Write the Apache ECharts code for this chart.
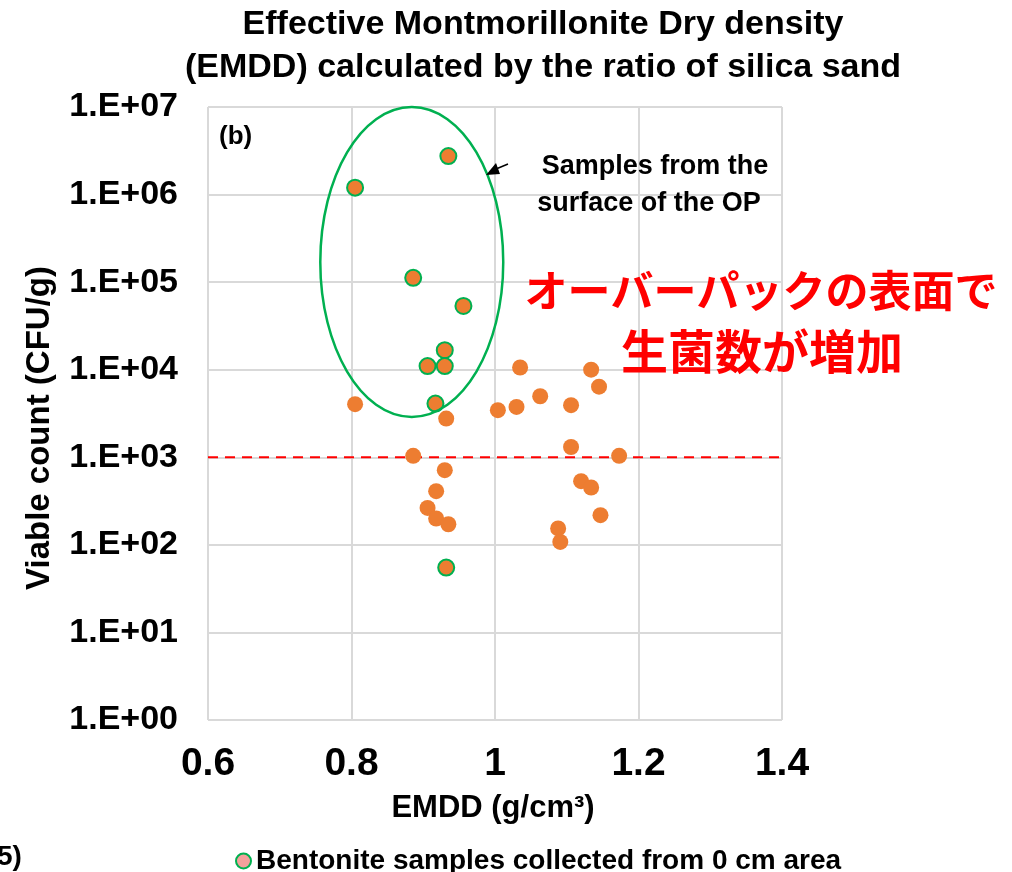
<!DOCTYPE html>
<html>
<head>
<meta charset="utf-8">
<script src="https://cdn.jsdelivr.net/npm/echarts@6/dist/echarts.min.js"></script>
<style>html,body{margin:0;padding:0;background:#fff;}#c{width:1012px;height:872px;}</style>
</head>
<body>
<div id="c"></div>
<script>
// Data
var surfaceX = [0.935, 0.805, 0.886, 0.956, 0.930, 0.906, 0.930, 0.917, 0.932];
var surfaceY = [2750000, 1200000, 112000, 53500, 16700, 11000, 11000, 4100, 55];
var otherX = [0.805, 0.932, 1.004, 1.030, 1.035, 1.134, 1.145, 1.063, 1.106, 1.106, 0.886, 1.173, 0.930, 0.918, 1.120, 1.134, 0.906, 0.918, 0.935, 1.147, 1.088, 1.091];
var otherY = [4040, 2770, 3450, 3760, 10600, 10000, 6400, 4980, 3940, 1310, 1040, 1040, 713, 410, 533, 452, 264, 200, 172, 218, 154, 108];
var xTickLabels = ['0.6', '0.8', '1', '1.2', '1.4'];
var yTickLabels = ['1.E+00', '1.E+01', '1.E+02', '1.E+03', '1.E+04', '1.E+05', '1.E+06', '1.E+07'];
var thresholdX = [0.6, 1.4];
var thresholdY = [1000, 1000];
var ellipseCenter = [0.884, 170000];   // data coords of the annotation ellipse centre
var ellipseTop = [0.884, 10000000];
var ellipseRight = [1.0115, 170000];

function pairs(xs, ys) { return xs.map(function (x, i) { return [x, ys[i]]; }); }

var chart = echarts.init(document.getElementById('c'), null, { renderer: 'canvas' });
var legendName = 'Bentonite samples collected from 0 cm area';
var option = {
  animation: false,
  backgroundColor: '#ffffff',
  title: {
    text: 'Effective Montmorillonite Dry density\n(EMDD) calculated by the ratio of silica sand',
    left: 538, top: -2, textAlign: 'center',
    textStyle: { fontFamily: 'Liberation Sans', fontWeight: 'bold', fontSize: 34, lineHeight: 43, color: '#000' }
  },
  grid: { left: 208, right: 230, top: 107, bottom: 152 },
  legend: {
    data: [{ name: legendName, icon: 'circle', itemStyle: { color: '#F4A09C', borderColor: '#00B050', borderWidth: 2 } }],
    left: 230, top: 842, itemWidth: 15, itemHeight: 15, itemGap: 7,
    textStyle: { fontFamily: 'Liberation Sans', fontWeight: 'bold', fontSize: 28, color: '#000' }
  },
  xAxis: {
    type: 'value', min: 0.6, max: 1.4, interval: 0.2,
    axisLine: { show: false }, axisTick: { show: false },
    splitLine: { show: true, lineStyle: { color: '#d9d9d9', width: 2 } },
    axisLabel: {
      margin: 25, color: '#000', fontFamily: 'Liberation Sans', fontWeight: 'bold', fontSize: 39,
      formatter: function (v) { return xTickLabels[Math.round((v - 0.6) / 0.2)]; }
    }
  },
  yAxis: {
    type: 'log', logBase: 10, min: 1, max: 10000000,
    axisLine: { show: false }, axisTick: { show: false },
    splitLine: { show: true, lineStyle: { color: '#d9d9d9', width: 2 } },
    axisLabel: {
      margin: 30, color: '#000', fontFamily: 'Liberation Sans', fontWeight: 'bold', fontSize: 34,
      formatter: function (v) { return yTickLabels[Math.round(Math.log10(v))]; }
    }
  },
  series: [
    {
      name: 'threshold', type: 'line', symbol: 'none', silent: true, z: 1,
      lineStyle: { color: '#FF0000', type: [10, 7], width: 2 },
      data: pairs(thresholdX, thresholdY)
    },
    {
      name: 'others', type: 'scatter', symbol: 'circle', symbolSize: 16, z: 2,
      itemStyle: { color: '#ED7D31', opacity: 1 },
      data: pairs(otherX, otherY)
    },
    {
      name: legendName, type: 'scatter', symbol: 'circle', symbolSize: 16, z: 3,
      itemStyle: { color: '#ED7D31', borderColor: '#00B050', borderWidth: 2, opacity: 1 },
      data: pairs(surfaceX, surfaceY)
    }
  ]
};
chart.setOption(option);

var c = chart.convertToPixel({ gridIndex: 0 }, ellipseCenter);
var t = chart.convertToPixel({ gridIndex: 0 }, ellipseTop);
var r = chart.convertToPixel({ gridIndex: 0 }, ellipseRight);
var F = 'Liberation Sans';
chart.setOption({
  graphic: [
    { type: 'ellipse', z: 10, shape: { cx: c[0], cy: c[1], rx: r[0] - c[0], ry: c[1] - t[1] },
      style: { fill: 'none', stroke: '#00B050', lineWidth: 2.5 } },
    { type: 'line', z: 10, shape: { x1: 508, y1: 164, x2: 496, y2: 169 }, style: { stroke: '#000', lineWidth: 1.5 } },
    { type: 'polygon', z: 10, shape: { points: [[486, 175], [496, 163], [500, 174]] }, style: { fill: '#000' } },
    { type: 'text', z: 10, x: 219, y: 137,
      style: { text: '(b)', font: 'bold 26px ' + F, fill: '#000', verticalAlign: 'middle' } },
    { type: 'text', z: 10, x: 655, y: 167,
      style: { text: 'Samples from the', font: 'bold 27px ' + F, fill: '#000', align: 'center', verticalAlign: 'middle' } },
    { type: 'text', z: 10, x: 649, y: 204,
      style: { text: 'surface of the OP', font: 'bold 27px ' + F, fill: '#000', align: 'center', verticalAlign: 'middle' } },
    { type: 'text', z: 10, x: 761, y: 291,
      style: { text: 'オーバーパックの表面で', font: 'bold 43px Noto Sans CJK JP', fill: '#FF0000', align: 'center', verticalAlign: 'middle' } },
    { type: 'text', z: 10, x: 762, y: 351,
      style: { text: '生菌数が増加', font: 'bold 47px Noto Sans CJK JP', fill: '#FF0000', align: 'center', verticalAlign: 'middle' } },
    { type: 'text', z: 10, x: 40, y: 428, rotation: Math.PI / 2,
      style: { text: 'Viable count (CFU/g)', font: 'bold 33px ' + F, fill: '#000', align: 'center', verticalAlign: 'middle' } },
    { type: 'text', z: 10, x: 493, y: 808,
      style: { text: 'EMDD (g/cm³)', font: 'bold 31px ' + F, fill: '#000', align: 'center', verticalAlign: 'middle' } },
    { type: 'text', z: 10, x: -3, y: 857,
      style: { text: '5)', font: 'bold 28px ' + F, fill: '#000', verticalAlign: 'middle' } }
  ]
});
</script>
</body>
</html>
